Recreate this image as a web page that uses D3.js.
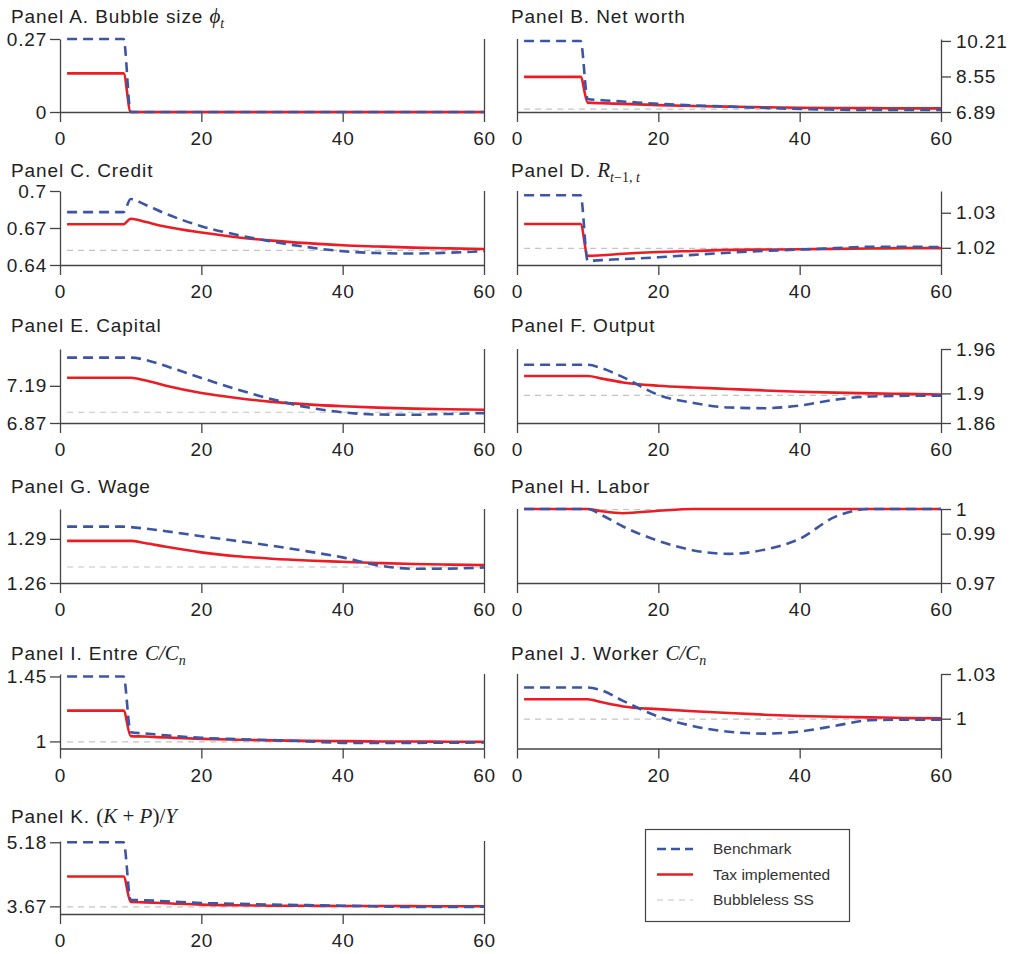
<!DOCTYPE html>
<html lang="en">
<head>
<meta charset="UTF-8" />
<title>Bubble tax panels</title>
<script src="https://cdn.jsdelivr.net/npm/d3@7"></script>
<style>
  body { margin: 0; background: #fff; }
  svg { display: block; font-family: "Liberation Sans", Arial, sans-serif; }
  .axis path, .axis line { stroke: #444; stroke-width: 1.3; }
  .axis text { font-size: 19px; fill: #222; font-family: "Liberation Sans", Arial, sans-serif; letter-spacing: 0.8px; }
  .title { font-size: 19px; fill: #222; letter-spacing: 0.9px; }
  .border { stroke: #444; stroke-width: 1.3; }
  .legend text { font-size: 15.5px; fill: #333; }
</style>
</head>
<body>
<svg width="1012" height="954"></svg>
<script>
const periods = [1, 9, 10, 12, 15, 20, 25, 30, 35, 40, 45, 50, 55, 60];
const xTicks = [0, 20, 40, 60];

// Panel A. bubble size
const bubbleBench = [0.27, 0.27, 0, 0, 0, 0, 0, 0, 0, 0, 0, 0, 0, 0];
const bubbleTax   = [0.143, 0.143, 0, 0, 0, 0, 0, 0, 0, 0, 0, 0, 0, 0];
const bubbleSS = 0;
const bubbleTicks = [0, 0.27];

// Panel B. net worth
const worthBench = [10.21, 10.21, 7.50, 7.44, 7.38, 7.27, 7.20, 7.14, 7.08, 7.03, 7.00, 6.98, 6.98, 6.99];
const worthTax   = [8.53, 8.53, 7.33, 7.30, 7.27, 7.21, 7.17, 7.14, 7.11, 7.09, 7.08, 7.07, 7.06, 7.06];
const worthSS = 7.05;
const worthTicks = [6.89, 8.55, 10.21];

// Panel C. credit
const creditBench = [0.6829, 0.6829, 0.6935, 0.6890, 0.6815, 0.6715, 0.6645, 0.6590, 0.6545, 0.6512, 0.6497, 0.6493, 0.6500, 0.6512];
const creditTax   = [0.6731, 0.6731, 0.6775, 0.6750, 0.6710, 0.6663, 0.6625, 0.6598, 0.6577, 0.6560, 0.6550, 0.6541, 0.6535, 0.6530];
const creditSS = 0.6522;
const creditTicks = [0.64, 0.67, 0.7];

// Panel D. interest rate
const rateBench = [1.0350, 1.0350, 1.0163, 1.0165, 1.0168, 1.0173, 1.0180, 1.0186, 1.0191, 1.0195, 1.0199, 1.0203, 1.0203, 1.0202];
const rateTax   = [1.0268, 1.0268, 1.0177, 1.0179, 1.0183, 1.0188, 1.0191, 1.0194, 1.0195, 1.0196, 1.0197, 1.0198, 1.0199, 1.0199];
const rateSS = 1.02;
const rateTicks = [1.02, 1.03];

// Panel E. capital
const capitalBench = [7.433, 7.433, 7.433, 7.415, 7.360, 7.258, 7.160, 7.075, 7.005, 6.962, 6.943, 6.941, 6.948, 6.955];
const capitalTax   = [7.259, 7.259, 7.259, 7.238, 7.190, 7.128, 7.085, 7.052, 7.030, 7.014, 7.002, 6.994, 6.988, 6.984];
const capitalSS = 6.967;
const capitalTicks = [6.87, 7.19];

// Panel F. output
const outputBench = [1.9387, 1.9387, 1.9387, 1.9340, 1.9220, 1.8980, 1.8870, 1.8810, 1.8800, 1.8835, 1.8915, 1.8958, 1.8968, 1.8970];
const outputTax   = [1.9235, 1.9235, 1.9235, 1.9200, 1.9148, 1.9104, 1.9080, 1.9060, 1.9040, 1.9023, 1.9010, 1.9000, 1.8993, 1.8986];
const outputSS = 1.898;
const outputTicks = [1.86, 1.9, 1.96];

// Panel G. wage
const wageBench = [1.2983, 1.2983, 1.2980, 1.2970, 1.2952, 1.2918, 1.2886, 1.2853, 1.2815, 1.2774, 1.2720, 1.2697, 1.2698, 1.2706];
const wageTax   = [1.2886, 1.2886, 1.2886, 1.2872, 1.2846, 1.2808, 1.2782, 1.2765, 1.2753, 1.2744, 1.2736, 1.2729, 1.2725, 1.2722];
const wageSS = 1.2712;
const wageTicks = [1.26, 1.29];

// Panel H. labor
const laborBench = [1, 1, 1, 0.9975, 0.9929, 0.9871, 0.9832, 0.9818, 0.9835, 0.9879, 0.9968, 1, 1, 1];
const laborTax   = [1, 1, 1, 0.9991, 0.9983, 0.9993, 1, 1, 1, 1, 1, 1, 1, 1];
const laborSS = 1;
const laborTicks = [0.97, 0.99, 1];

// Panel I. entrepreneur consumption
const entreBench = [1.45, 1.45, 1.063, 1.055, 1.042, 1.025, 1.016, 1.009, 1.000, 0.990, 0.989, 0.990, 0.991, 0.993];
const entreTax   = [1.213, 1.213, 1.037, 1.034, 1.027, 1.018, 1.012, 1.007, 1.004, 1.002, 1.000, 0.999, 0.998, 0.997];
const entreSS = 1;
const entreTicks = [1, 1.45];

// Panel J. worker consumption
const workerBench = [1.0209, 1.0209, 1.0209, 1.0190, 1.0120, 1.0015, 0.9950, 0.9912, 0.9900, 0.9914, 0.9952, 0.9990, 0.9993, 0.9993];
const workerTax   = [1.0131, 1.0131, 1.0131, 1.0110, 1.0082, 1.0064, 1.0050, 1.0038, 1.0027, 1.0018, 1.0013, 1.0009, 1.0005, 1.0002];
const workerSS = 1;
const workerTicks = [1, 1.03];

// Panel K. (K+P)/Y
const ratioBench = [5.18, 5.18, 3.827, 3.815, 3.790, 3.750, 3.730, 3.710, 3.700, 3.686, 3.670, 3.655, 3.655, 3.660];
const ratioTax   = [4.373, 4.373, 3.773, 3.765, 3.745, 3.710, 3.695, 3.686, 3.683, 3.680, 3.677, 3.675, 3.673, 3.672];
const ratioSS = 3.67;
const ratioTicks = [3.67, 5.18];

const legendLabels = ["Benchmark", "Tax implemented", "Bubbleless SS"];

// layout
const rows = [
  { title: 23, top: 39, bottom: 112 },
  { title: 177, top: 191, bottom: 265 },
  { title: 332, top: 349, bottom: 423 },
  { title: 493, top: 509, bottom: 583 },
  { title: 660, top: 674, bottom: 748.5 },
  { title: 823, top: 841, bottom: 914 }
];
const cols = { left: { x0: 60, tx: 11 }, right: { x0: 517, tx: 511 } };
const plotW = 424;
const blue = "#3c55a5", red = "#ec1c24", grey = "#c4c4c4";

const panels = [
  { row: 0, side: "left", domain: [0, 0.27], ticks: bubbleTicks, bench: bubbleBench, tax: bubbleTax, ss: bubbleSS,
    title: [{ t: "Panel A. Bubble size " }, { t: "\u03d5", m: 1 }, { t: "t", m: 1, sub: 1 }] },
  { row: 0, side: "right", domain: [6.89, 10.30], ticks: worthTicks, bench: worthBench, tax: worthTax, ss: worthSS,
    title: [{ t: "Panel B. Net worth" }] },
  { row: 1, side: "left", domain: [0.64, 0.70], ticks: creditTicks, bench: creditBench, tax: creditTax, ss: creditSS,
    title: [{ t: "Panel C. Credit" }] },
  { row: 1, side: "right", domain: [1.0151, 1.0362], ticks: rateTicks, bench: rateBench, tax: rateTax, ss: rateSS,
    title: [{ t: "Panel D. " }, { t: "R", m: 1 }, { t: "t", m: 1, sub: 1 }, { t: "\u22121, ", m: 2, sub: 2 }, { t: "t", m: 1, sub: 2 }] },
  { row: 2, side: "left", domain: [6.87, 7.507], ticks: capitalTicks, bench: capitalBench, tax: capitalTax, ss: capitalSS,
    title: [{ t: "Panel E. Capital" }] },
  { row: 2, side: "right", domain: [1.86, 1.96], ticks: outputTicks, bench: outputBench, tax: outputTax, ss: outputSS,
    title: [{ t: "Panel F. Output" }] },
  { row: 3, side: "left", domain: [1.26, 1.3103], ticks: wageTicks, bench: wageBench, tax: wageTax, ss: wageSS,
    title: [{ t: "Panel G. Wage" }] },
  { row: 3, side: "right", domain: [0.97, 1], ticks: laborTicks, bench: laborBench, tax: laborTax, ss: laborSS,
    title: [{ t: "Panel H. Labor" }] },
  { row: 4, side: "left", domain: [0.951, 1.467], ticks: entreTicks, bench: entreBench, tax: entreTax, ss: entreSS,
    title: [{ t: "Panel I. Entre " }, { t: "C/C", m: 1 }, { t: "n", m: 1, sub: 1 }] },
  { row: 4, side: "right", domain: [0.98, 1.03], ticks: workerTicks, bench: workerBench, tax: workerTax, ss: workerSS,
    title: [{ t: "Panel J. Worker " }, { t: "C/C", m: 1 }, { t: "n", m: 1, sub: 1 }] },
  { row: 5, side: "left", domain: [3.49, 5.21], ticks: ratioTicks, bench: ratioBench, tax: ratioTax, ss: ratioSS,
    title: [{ t: "Panel K. " }, { t: "(", m: 2 }, { t: "K", m: 1 }, { t: " + ", m: 2 }, { t: "P", m: 1 }, { t: ")/", m: 2 }, { t: "Y", m: 1 }] }
];

const svg = d3.select("svg");
const x = d3.scaleLinear().domain([0, 60]).range([0, plotW]);

function drawTitle(g, parts, tx, ty) {
  const text = g.append("text").attr("class", "title").attr("x", tx).attr("y", ty);
  let shifted = false;
  parts.forEach(p => {
    const span = text.append("tspan").text(p.t);
    if (p.m) {
      span.attr("font-family", "'Liberation Serif', 'Times New Roman', serif")
        .attr("font-size", p.sub ? 14 : 21)
        .attr("font-style", p.m === 1 ? "italic" : "normal")
        .attr("letter-spacing", 0);
    }
    if (p.sub && !shifted) { span.attr("dy", 5); shifted = true; }
    if (!p.sub && shifted) { span.attr("dy", -5); shifted = false; }
  });
}

function drawPanel(p) {
  const r = rows[p.row];
  const c = cols[p.side];
  const y = d3.scaleLinear().domain(p.domain).range([r.bottom, r.top]);

  drawTitle(svg, p.title, c.tx, r.title);

  const g = svg.append("g").attr("transform", `translate(${c.x0},0)`);

  // bubbleless steady state, drawn under the axes
  g.append("line")
    .attr("x1", x(1)).attr("x2", x(60))
    .attr("y1", y(p.ss) + 0.5).attr("y2", y(p.ss) + 0.5)
    .attr("stroke", grey).attr("stroke-width", 1.2).attr("stroke-dasharray", "6,5");

  g.append("g").attr("class", "axis")
    .attr("transform", `translate(0,${r.bottom})`)
    .call(d3.axisBottom(x).tickValues(xTicks).tickSize(10).tickSizeOuter(0).tickPadding(10).tickFormat(d => d));

  if (p.side === "left") {
    g.append("g").attr("class", "axis")
      .call(d3.axisLeft(y).tickValues(p.ticks).tickSize(10).tickSizeOuter(0).tickPadding(3).tickFormat(d => d));
    g.append("line").attr("class", "border")
      .attr("x1", x(60) + 0.5).attr("x2", x(60) + 0.5).attr("y1", r.top).attr("y2", r.bottom);
  } else {
    g.append("g").attr("class", "axis")
      .attr("transform", `translate(${plotW},0)`)
      .call(d3.axisRight(y).tickValues(p.ticks).tickSize(10).tickSizeOuter(0).tickPadding(5).tickFormat(d => d));
    g.append("line").attr("class", "border")
      .attr("x1", 0.5).attr("x2", 0.5).attr("y1", r.top).attr("y2", r.bottom);
  }

  const line = d3.line()
    .x((d, i) => x(periods[i]))
    .y(d => y(d))
    .curve(d3.curveMonotoneX);

  g.append("path").datum(p.tax)
    .attr("d", line).attr("fill", "none")
    .attr("stroke", red).attr("stroke-width", 2.6);

  g.append("path").datum(p.bench)
    .attr("d", line).attr("fill", "none")
    .attr("stroke", blue).attr("stroke-width", 2.6).attr("stroke-dasharray", "10,6");
}

panels.forEach(drawPanel);

// legend
const lg = svg.append("g").attr("class", "legend");
lg.append("rect").attr("x", 645.5).attr("y", 829.5).attr("width", 204).attr("height", 92)
  .attr("fill", "none").attr("stroke", "#444").attr("stroke-width", 1.2);
const legendStyles = [
  { color: blue, width: 2.6, dash: "9,5" },
  { color: red, width: 2.6, dash: null },
  { color: grey, width: 1.2, dash: "6,5" }
];
legendLabels.forEach((lab, i) => {
  const yy = 849 + i * 25.5;
  const s = legendStyles[i];
  lg.append("line").attr("x1", 657).attr("x2", 693).attr("y1", yy).attr("y2", yy)
    .attr("stroke", s.color).attr("stroke-width", s.width)
    .attr("stroke-dasharray", s.dash);
  lg.append("text").attr("x", 713).attr("y", yy).attr("dy", "0.35em").text(lab);
});
</script>
</body>
</html>
